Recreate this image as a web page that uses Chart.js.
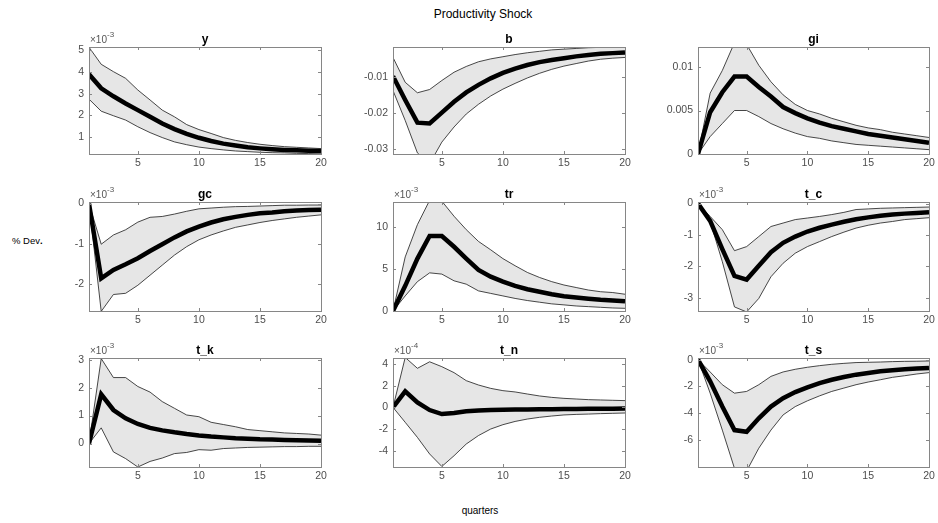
<!DOCTYPE html>
<html>
<head>
<meta charset="utf-8">
<script src="https://cdn.jsdelivr.net/npm/chart.js@4/dist/chart.umd.min.js"></script>
<style>
body { margin:0; background:#fff; width:938px; height:523px; position:relative; overflow:hidden; font-family:"Liberation Sans", Arial, sans-serif; }
.panel { position:absolute; }
.lbl { position:absolute; color:#000; white-space:nowrap; }
</style>
</head>
<body>
<div class="lbl" style="left:0;width:966px;top:7px;text-align:center;font-size:12px;">Productivity Shock</div>
<div class="lbl" style="left:12px;top:235px;font-size:9.5px;">% Dev<b>.</b></div>
<div class="lbl" style="left:380px;width:200px;top:505px;text-align:center;font-size:10px;">quarters</div>
<script>
// horizon
const quarters = [1,2,3,4,5,6,7,8,9,10,11,12,13,14,15,16,17,18,19,20];
const xTicks = [5,10,15,20];

// y (x1e-3)
const yMed = [3.90,3.25,2.88,2.55,2.24,1.93,1.62,1.36,1.14,0.96,0.81,0.69,0.60,0.52,0.47,0.43,0.40,0.38,0.36,0.35];
const yHi  = [5.15,4.36,4.02,3.71,3.17,2.71,2.24,1.93,1.57,1.34,1.16,0.97,0.84,0.74,0.66,0.60,0.55,0.52,0.49,0.46];
const yLo  = [2.75,2.19,1.98,1.78,1.47,1.20,0.97,0.77,0.64,0.53,0.46,0.40,0.35,0.32,0.29,0.27,0.26,0.24,0.23,0.21];
const yTicksY = [1,2,3,4,5];

// b
const bMed = [-0.0097,-0.0163,-0.0226,-0.0228,-0.0198,-0.0168,-0.0142,-0.0121,-0.0103,-0.0088,-0.0076,-0.0066,-0.0058,-0.0052,-0.0047,-0.0042,-0.0038,-0.0035,-0.0033,-0.0031];
const bHi  = [-0.0045,-0.0114,-0.0143,-0.0134,-0.0109,-0.0086,-0.0070,-0.0057,-0.0049,-0.0043,-0.0037,-0.0032,-0.0028,-0.0024,-0.0022,-0.0020,-0.0018,-0.0017,-0.0016,-0.0016];
const bLo  = [-0.0137,-0.0220,-0.0310,-0.0340,-0.0280,-0.0238,-0.0202,-0.0175,-0.0152,-0.0133,-0.0117,-0.0102,-0.0089,-0.0078,-0.0069,-0.0062,-0.0055,-0.0050,-0.0047,-0.0045];
const yTicksB = [-0.03,-0.02,-0.01];

// gi
const giMed = [0,0.0048,0.0071,0.0089,0.0089,0.0077,0.0066,0.0054,0.0047,0.0041,0.0036,0.0032,0.0029,0.0026,0.0023,0.0021,0.0019,0.0017,0.0015,0.0013];
const giHi  = [0,0.0070,0.0096,0.0128,0.0126,0.0102,0.0083,0.0068,0.0057,0.0050,0.0046,0.0041,0.0037,0.0033,0.0030,0.0028,0.0025,0.0023,0.0021,0.0019];
const giLo  = [0,0.0020,0.0035,0.0050,0.0050,0.0043,0.0035,0.0029,0.0024,0.0020,0.0018,0.0015,0.0013,0.0011,0.0010,0.0009,0.0008,0.0007,0.0006,0.0005];
const yTicksGi = [0,0.005,0.01];

// gc (x1e-3)
const gcMed = [0,-1.86,-1.65,-1.51,-1.36,-1.18,-1.01,-0.84,-0.69,-0.57,-0.47,-0.39,-0.33,-0.28,-0.24,-0.22,-0.19,-0.17,-0.16,-0.15];
const gcHi  = [0,-1.01,-0.78,-0.65,-0.46,-0.34,-0.32,-0.26,-0.19,-0.13,-0.11,-0.09,-0.075,-0.07,-0.06,-0.05,-0.04,-0.04,-0.035,-0.035];
const gcLo  = [0,-2.68,-2.26,-2.23,-2.03,-1.78,-1.53,-1.28,-1.07,-0.90,-0.78,-0.68,-0.59,-0.53,-0.47,-0.42,-0.38,-0.34,-0.31,-0.28];
const yTicksGc = [-2,-1,0];

// tr (x1e-3)
const trMed = [0,3.0,6.25,8.95,8.95,7.66,6.25,4.9,4.1,3.5,3.0,2.6,2.3,2.0,1.77,1.6,1.45,1.33,1.25,1.17];
const trHi  = [0,6.45,10.3,13.2,13.1,11.3,9.7,8.3,7.3,6.25,5.4,4.6,4.0,3.5,3.1,2.8,2.5,2.3,2.2,2.0];
const trLo  = [0,1.8,3.5,4.55,4.4,3.6,3.2,2.4,2.1,1.8,1.5,1.25,1.05,0.85,0.73,0.6,0.52,0.44,0.36,0.32];
const yTicksTr = [0,5,10];

// t_c (x1e-3)
const tcMed = [0,-0.55,-1.45,-2.3,-2.42,-1.98,-1.55,-1.25,-1.05,-0.89,-0.77,-0.67,-0.58,-0.5,-0.44,-0.39,-0.35,-0.32,-0.3,-0.28];
const tcHi  = [0,-0.41,-0.83,-1.5,-1.37,-1.05,-0.73,-0.62,-0.51,-0.46,-0.41,-0.35,-0.28,-0.19,-0.17,-0.15,-0.14,-0.13,-0.12,-0.11];
const tcLo  = [0,-0.57,-1.85,-3.29,-3.45,-3.02,-2.33,-1.9,-1.58,-1.37,-1.21,-1.05,-0.91,-0.78,-0.69,-0.62,-0.57,-0.51,-0.48,-0.45];
const yTicksTc = [-3,-2,-1,0];

// t_k (x1e-3)
const tkMed = [0,1.76,1.2,0.9,0.7,0.56,0.47,0.4,0.34,0.29,0.25,0.22,0.19,0.17,0.15,0.14,0.13,0.12,0.11,0.1];
const tkHi  = [0,3.04,2.36,2.36,2.04,1.84,1.5,1.26,1.02,0.96,0.76,0.68,0.6,0.5,0.46,0.42,0.38,0.36,0.34,0.3];
const tkLo  = [0,0.56,-0.3,-0.54,-0.84,-0.64,-0.52,-0.36,-0.32,-0.22,-0.24,-0.18,-0.16,-0.14,-0.13,-0.12,-0.11,-0.11,-0.1,-0.1];
const yTicksTk = [0,1,2,3];

// t_n (x1e-4)
const tnMed = [0,1.48,0.46,-0.25,-0.62,-0.52,-0.37,-0.28,-0.25,-0.22,-0.2,-0.19,-0.18,-0.17,-0.16,-0.15,-0.14,-0.13,-0.12,-0.11];
const tnHi  = [0,4.6,3.6,4.2,3.75,3.2,2.46,2.06,1.75,1.54,1.42,1.23,1.05,0.92,0.83,0.77,0.71,0.68,0.65,0.62];
const tnLo  = [0,-1.38,-2.77,-4.3,-5.45,-4.46,-3.38,-2.6,-2.0,-1.6,-1.3,-1.08,-0.92,-0.8,-0.7,-0.65,-0.62,-0.58,-0.55,-0.52];
const yTicksTn = [-4,-2,0,2,4];

// t_s (x1e-3)
const tsMed = [0,-1.62,-3.5,-5.25,-5.38,-4.37,-3.5,-2.87,-2.42,-2.07,-1.75,-1.5,-1.3,-1.12,-1.0,-0.87,-0.8,-0.72,-0.67,-0.62];
const tsHi  = [0,-0.92,-1.87,-2.5,-2.37,-1.87,-1.25,-0.92,-0.72,-0.57,-0.45,-0.35,-0.28,-0.22,-0.2,-0.18,-0.15,-0.13,-0.12,-0.1];
const tsLo  = [0,-2.5,-5.25,-8.1,-8.3,-6.6,-5.25,-4.12,-3.5,-3.07,-2.7,-2.37,-2.12,-1.87,-1.67,-1.5,-1.32,-1.2,-1.07,-0.97];
const yTicksTs = [-6,-4,-2,0];

// layout of the 3x3 grid (plot area in page pixels)
const cols = [{ l: 89, w: 232 }, { l: 393, w: 232 }, { l: 698, w: 231 }];
const rows = [{ t: 47, h: 107 }, { t: 202, h: 109 }, { t: 358, h: 109 }];

const panels = [
  { title: 'y',   exp: '-3', med: yMed,  hi: yHi,  lo: yLo,  min: 0.21,    max: 5.16,    ticks: yTicksY },
  { title: 'b',   exp: null, med: bMed,  hi: bHi,  lo: bLo,  min: -0.0313, max: -0.0016, ticks: yTicksB },
  { title: 'gi',  exp: null, med: giMed, hi: giHi, lo: giLo, min: 0,       max: 0.0123,  ticks: yTicksGi },
  { title: 'gc',  exp: '-3', med: gcMed, hi: gcHi, lo: gcLo, min: -2.67,   max: 0.04,    ticks: yTicksGc },
  { title: 'tr',  exp: '-3', med: trMed, hi: trHi, lo: trLo, min: 0,       max: 13.0,    ticks: yTicksTr },
  { title: 't_c', exp: '-3', med: tcMed, hi: tcHi, lo: tcLo, min: -3.42,   max: 0.05,    ticks: yTicksTc },
  { title: 't_k', exp: '-3', med: tkMed, hi: tkHi, lo: tkLo, min: -0.84,   max: 3.06,    ticks: yTicksTk },
  { title: 't_n', exp: '-4', med: tnMed, hi: tnHi, lo: tnLo, min: -5.5,    max: 4.55,    ticks: yTicksTn },
  { title: 't_s', exp: '-3', med: tsMed, hi: tsHi, lo: tsLo, min: -8.0,    max: 0.12,    ticks: yTicksTs }
];

const FONT = '"Liberation Sans", Arial, sans-serif';
const PAD_L = 60, PAD_T = 22, PAD_R = 15, PAD_B = 20;

// box round the axes, inward tick marks, bold title and the x10^n factor
const matlabAxes = {
  id: 'matlabAxes',
  afterDraw(chart) {
    const { ctx, chartArea: a, scales } = chart;
    const p = chart.options.plugins.matlabAxes;
    ctx.save();
    ctx.strokeStyle = '#868686';
    ctx.lineWidth = 1;
    ctx.strokeRect(a.left + 0.5, a.top + 0.5, a.right - a.left, a.bottom - a.top);
    ctx.beginPath();
    xTicks.forEach(v => {
      const x = Math.round(scales.x.getPixelForValue(v)) + 0.5;
      ctx.moveTo(x, a.bottom); ctx.lineTo(x, a.bottom - 3);
      ctx.moveTo(x, a.top); ctx.lineTo(x, a.top + 3);
    });
    p.yTicks.forEach(v => {
      const y = Math.round(scales.y.getPixelForValue(v)) + 0.5;
      ctx.moveTo(a.left, y); ctx.lineTo(a.left + 3, y);
      ctx.moveTo(a.right, y); ctx.lineTo(a.right - 3, y);
    });
    ctx.stroke();

    ctx.fillStyle = '#000';
    ctx.font = 'bold 12px ' + FONT;
    ctx.textAlign = 'center';
    ctx.textBaseline = 'alphabetic';
    ctx.fillText(p.title, (a.left + a.right) / 2, a.top - 4);

    if (p.exp) {
      ctx.fillStyle = '#555';
      ctx.textAlign = 'left';
      ctx.font = '10px ' + FONT;
      const base = '\u00d710';
      ctx.fillText(base, a.left + 1, a.top - 4);
      const w = ctx.measureText(base).width;
      ctx.font = '8px ' + FONT;
      ctx.fillText(p.exp, a.left + 1 + w, a.top - 10);
    }
    ctx.restore();
  }
};

function pts(arr) {
  return quarters.map((q, i) => ({ x: q, y: arr[i] }));
}

panels.forEach((p, i) => {
  const c = cols[i % 3], r = rows[Math.floor(i / 3)];
  const W = c.w + PAD_L + PAD_R, H = r.h + PAD_T + PAD_B;
  const div = document.createElement('div');
  div.className = 'panel';
  div.style.left = (c.l - PAD_L) + 'px';
  div.style.top = (r.t - PAD_T) + 'px';
  const cv = document.createElement('canvas');
  cv.width = W; cv.height = H;
  cv.style.width = W + 'px'; cv.style.height = H + 'px';
  div.appendChild(cv);
  document.body.appendChild(div);

  new Chart(cv.getContext('2d'), {
    type: 'line',
    data: {
      datasets: [
        { data: pts(p.med), borderColor: '#000', borderWidth: 4.5, pointRadius: 0, fill: false, clip: 0 },
        { data: pts(p.hi), borderColor: '#1a1a1a', borderWidth: 0.8, pointRadius: 0, fill: '+1', backgroundColor: '#e6e6e6', clip: 0 },
        { data: pts(p.lo), borderColor: '#1a1a1a', borderWidth: 0.8, pointRadius: 0, fill: false, clip: 0 }
      ]
    },
    options: {
      responsive: false,
      animation: false,
      devicePixelRatio: 1,
      layout: { padding: { top: PAD_T, right: PAD_R, left: 0, bottom: 0 } },
      scales: {
        x: {
          type: 'linear', min: 1, max: 20,
          afterBuildTicks: s => { s.ticks = xTicks.map(v => ({ value: v })); },
          afterFit: s => { s.height = PAD_B; },
          grid: { display: false, drawTicks: false },
          border: { display: false },
          ticks: { padding: 3, color: '#4d4d4d', font: { family: FONT, size: 10.5 }, maxRotation: 0, autoSkip: false }
        },
        y: {
          type: 'linear', min: p.min, max: p.max,
          afterBuildTicks: s => { s.ticks = p.ticks.map(v => ({ value: v })); },
          afterFit: s => { s.width = PAD_L; },
          grid: { display: false, drawTicks: false },
          border: { display: false },
          ticks: { padding: 5, color: '#4d4d4d', font: { family: FONT, size: 10.5 }, autoSkip: false, callback: v => String(v) }
        }
      },
      plugins: {
        legend: { display: false },
        tooltip: { enabled: false },
        filler: { drawTime: 'beforeDatasetsDraw' },
        matlabAxes: { title: p.title, exp: p.exp, yTicks: p.ticks }
      }
    },
    plugins: [matlabAxes]
  });
});
</script>
</body>
</html>
